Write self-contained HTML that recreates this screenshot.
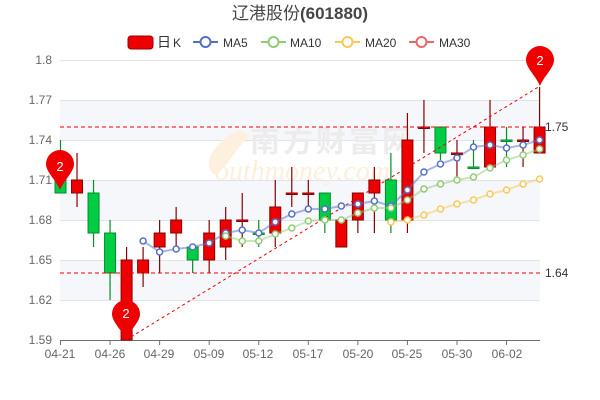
<!DOCTYPE html>
<html><head><meta charset="utf-8"><style>
body{margin:0;background:#fff}
svg{display:block;font-family:"Liberation Sans","Noto Sans CJK SC",sans-serif}
</style></head><body>
<svg id="s" width="600" height="400" viewBox="0 0 600 400">
<rect width="600" height="400" fill="#fff"/>
<rect x="60" y="100" width="480" height="40" fill="#f5f7fb"/>
<rect x="60" y="180" width="480" height="40" fill="#f5f7fb"/>
<rect x="60" y="260" width="480" height="40" fill="#f5f7fb"/>
<g stroke="#dfe3ee" stroke-width="1">
<line x1="60" y1="60.5" x2="540" y2="60.5"/><line x1="60" y1="100.5" x2="540" y2="100.5"/>
<line x1="60" y1="140.5" x2="540" y2="140.5"/><line x1="60" y1="180.5" x2="540" y2="180.5"/>
<line x1="60" y1="220.5" x2="540" y2="220.5"/><line x1="60" y1="260.5" x2="540" y2="260.5"/>
<line x1="60" y1="300.5" x2="540" y2="300.5"/>
</g>
<path d="M240,130 C215,140 200,165 215,175 C225,170 235,150 250,135 Z" fill="#fdf0de"/>
<text x="250" y="152" font-size="30" fill="#ececec" font-weight="bold" letter-spacing="3">南方财富网</text>
<text x="215" y="180" font-size="28" fill="#fdefdc" font-style="italic" font-family="Liberation Serif,serif">outhmoney.com</text>
<g font-size="12" fill="#666" text-anchor="end">
<text x="52" y="64">1.8</text><text x="52" y="104">1.77</text><text x="52" y="144">1.74</text>
<text x="52" y="184">1.71</text><text x="52" y="224">1.68</text><text x="52" y="264">1.65</text>
<text x="52" y="304">1.62</text><text x="52" y="344">1.59</text>
</g>
<line x1="60" y1="340.5" x2="540" y2="340.5" stroke="#6e7079"/>
<g id="ticks" stroke="#6e7079"></g>
<g font-size="12" fill="#666" text-anchor="middle">
<text x="60" y="358">04-21</text><text x="110" y="358">04-26</text><text x="159" y="358">04-29</text>
<text x="209" y="358">05-09</text><text x="258" y="358">05-12</text><text x="308" y="358">05-17</text>
<text x="358" y="358">05-20</text><text x="407" y="358">05-25</text><text x="457" y="358">05-30</text>
<text x="507" y="358">06-02</text>
</g>
<g id="c"></g>
<line x1="60" y1="127" x2="540" y2="127" stroke="#e00" stroke-dasharray="4,3"/>
<line x1="60" y1="273" x2="540" y2="273" stroke="#e00" stroke-dasharray="4,3"/>
<line x1="126" y1="340" x2="540" y2="86" stroke="#e00" stroke-dasharray="3,3"/>
<text x="545" y="131" font-size="12" fill="#333">1.75</text>
<text x="545" y="277" font-size="12" fill="#333">1.64</text>
<g id="ma"></g>
<g id="pins"></g>
<text x="300" y="19" font-size="17" fill="#464646" text-anchor="middle">辽港股份<tspan font-weight="bold">(601880)</tspan></text>
<g font-size="12" fill="#333">
<rect x="128" y="36" width="25" height="13" rx="3" fill="#e00" stroke="#900"/>
<text x="157" y="47" font-size="14">日</text><text x="173" y="47">K</text>
<line x1="193" y1="42" x2="218" y2="42" stroke="#5470c6" stroke-width="2"/><circle cx="205.5" cy="42" r="5" fill="#fff" stroke="#5470c6" stroke-width="2"/><text x="223" y="47">MA5</text>
<line x1="261" y1="42" x2="286" y2="42" stroke="#91cc75" stroke-width="2"/><circle cx="273.5" cy="42" r="5" fill="#fff" stroke="#91cc75" stroke-width="2"/><text x="290" y="47">MA10</text>
<line x1="335" y1="42" x2="360" y2="42" stroke="#fac858" stroke-width="2"/><circle cx="347.5" cy="42" r="5" fill="#fff" stroke="#fac858" stroke-width="2"/><text x="365" y="47">MA20</text>
<line x1="409" y1="42" x2="434" y2="42" stroke="#ee6666" stroke-width="2"/><circle cx="421.5" cy="42" r="5" fill="#fff" stroke="#ee6666" stroke-width="2"/><text x="439" y="47">MA30</text>
</g>
<g id="pt"></g>
</svg>
<script>
var NS="http://www.w3.org/2000/svg";
function X(i){return 60.5+16.52*i;}
function el(p,t,a){var e=document.createElementNS(NS,t);for(var k in a)e.setAttribute(k,a[k]);document.getElementById(p).appendChild(e);return e;}
[0,3,6,9,12,15,18,21,24,27].forEach(function(i){el("ticks","line",{x1:X(i),y1:340,x2:X(i),y2:345});});
var C=[["g",180,193,140,193],["r",180,193,153,207],["g",193,233,180,247],["g",233,273,220,300],["r",260,340,247,340],
["r",260,273,247,287],["r",233,247,220,273],["r",220,233,207,250],["g",247,260,247,273],["r",233,260,220,273],
["r",220,247,207,260],["r",220,220,193,247],["g",233,233,220,247],["r",207,233,180,247],["r",193,193,167,207],
["r",193,193,180,207],["g",193,220,193,233],["r",220,247,220,247],["r",193,220,193,233],["r",180,193,167,233],
["g",180,220,153,233],["r",140,220,113,233],["r",127,127,100,153],["g",127,153,127,160],["r",153,153,140,177],
["g",167,167,140,167],["r",127,167,100,167],["g",140,140,127,167],["r",140,140,127,167],["r",127,153,87,153]];
C.forEach(function(c,i){var x=X(i),col=c[0]=="r"?"#e00":"#00cc44",wc=c[0]=="r"?"#8a0000":"#008f28";
el("c","line",{x1:x,y1:c[3],x2:x,y2:c[4],stroke:wc,"stroke-width":1.2});
var h=Math.max(1.5,c[2]-c[1]);el("c","rect",{x:x-5.5,y:c[1],width:11,height:h,fill:col,stroke:wc,"stroke-width":1});});
function ma(s,ys,col){var p=ys.map(function(y,k){return X(s+k)+","+y;}).join(" ");
el("ma","polyline",{points:p,fill:"none",stroke:col,"stroke-width":2,"stroke-opacity":0.5});
ys.forEach(function(y,k){el("ma","circle",{cx:X(s+k),cy:y,r:3,fill:"#fff",stroke:col,"stroke-width":1.5});});}
ma(5,[241,252,249,247,243,233,230,233,222,214,209,209,206,204,201,206,190,172,164,158,147,145,148,145,140],"#5470c6");
ma(10,[236,241,241,234,228,221,220,220,213,208,208,200,189,184,180,177,168,160,155,149],"#91cc75");
ma(20,[222,220,215,209,204,200,194,190,184,179],"#fac858");
function pin(x,y){var cy=y-26;el("pins","path",{d:"M"+x+","+y+" C"+(x-4)+","+(y-10)+" "+(x-14)+","+(cy+8)+" "+(x-14)+","+cy+" A14,14 0 1 1 "+(x+14)+","+cy+" C"+(x+14)+","+(cy+8)+" "+(x+4)+","+(y-10)+" "+x+","+y+"Z",fill:"#e00"});}
pin(60,190);pin(126,340);pin(540,86);
</script>
<svg width="600" height="400" style="position:absolute;left:0;top:0" font-family="Liberation Sans,sans-serif">
<text x="60" y="171" font-size="13" fill="#fff" text-anchor="middle">2</text>
<text x="126" y="318" font-size="13" fill="#fff" text-anchor="middle">2</text>
<text x="540" y="65" font-size="13" fill="#fff" text-anchor="middle">2</text>
</svg>
</body></html>
